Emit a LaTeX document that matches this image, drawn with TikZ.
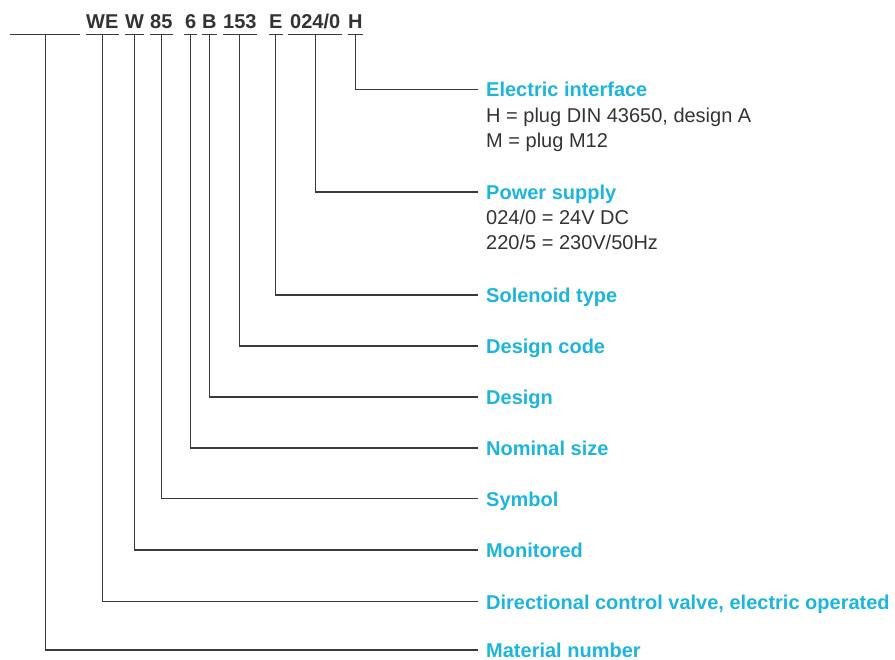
\documentclass[tikz,border=0pt]{standalone}
\usepackage{fontspec}
\setmainfont{Liberation Sans}
\usetikzlibrary{positioning}
\definecolor{labelblue}{HTML}{1DB4DD}
\definecolor{bodytext}{HTML}{333333}
\definecolor{leadergray}{HTML}{3A3A3A}

\tikzset{
  code/.style={font=\fontsize{20}{24}\selectfont\bfseries, text=bodytext, inner sep=0pt, text height=15pt, text depth=5pt, anchor=base west},
  field/.style={font=\fontsize{20}{24}\selectfont\bfseries, text=labelblue, inner xsep=8pt, inner ysep=0pt, text height=15pt, text depth=0pt, anchor=base west},
  desc/.style={font=\fontsize{20}{24}\selectfont, text=bodytext, inner sep=0pt, anchor=base west},
  leader/.style={draw=leadergray, line width=1.1pt}
}

\begin{document}
\begin{tikzpicture}[x=1pt, y=-1pt]
    \useasboundingbox (0,0) rectangle (895,660);

    % Type code
    \node[code, minimum width=70pt] (blank) at (10,29) {};
    \node[code] (we) at (86,29) {WE};
    \node[code] (mon) at (125,29) {W};
    \node[code] (sym) at (150,29) {85};
    \node[code, minimum width=13pt] (size) at (184,29) {6};
    \node[code] (des) at (202,29) {B};
    \node[code] (dcode) at (223,29) {153};
    \node[code] (sol) at (269,29) {E};
    \node[code, minimum width=54pt] (pwr) at (288,29) {024/0};
    \node[code] (plug) at (348,29) {H};

    % Underlines
    \foreach \n in {blank,we,mon,sym,size,des,dcode,sol,pwr,plug}
        \draw[leader] (\n.south west) -- (\n.south east);

    % Field names
    \node[field] (lplug) at (478,97) {Electric interface};
    \node[desc] at (486,123) {H = plug DIN 43650, design A};
    \node[desc] at (486,148) {M = plug M12};
    \node[field] (lpwr) at (478,199.5) {Power supply};
    \node[desc] at (486,225) {024/0 = 24V DC};
    \node[desc] at (486,250) {220/5 = 230V/50Hz};
    \node[field] (lsol) at (478,302.5) {Solenoid type};
    \node[field] (ldcode) at (478,353.5) {Design code};
    \node[field] (ldes) at (478,404.5) {Design};
    \node[field] (lsize) at (478,455.5) {Nominal size};
    \node[field] (lsym) at (478,506) {Symbol};
    \node[field] (lmon) at (478,557.5) {Monitored};
    \node[field] (lwe) at (478,609) {Directional control valve, electric operated};
    \node[field] (lblank) at (478,657.5) {Material number};

    % Leaders
    \foreach \n in {blank,we,mon,sym,size,des,dcode,sol,pwr,plug}
        \draw[leader] (\n.south) |- (l\n.west);
\end{tikzpicture}
\end{document}
